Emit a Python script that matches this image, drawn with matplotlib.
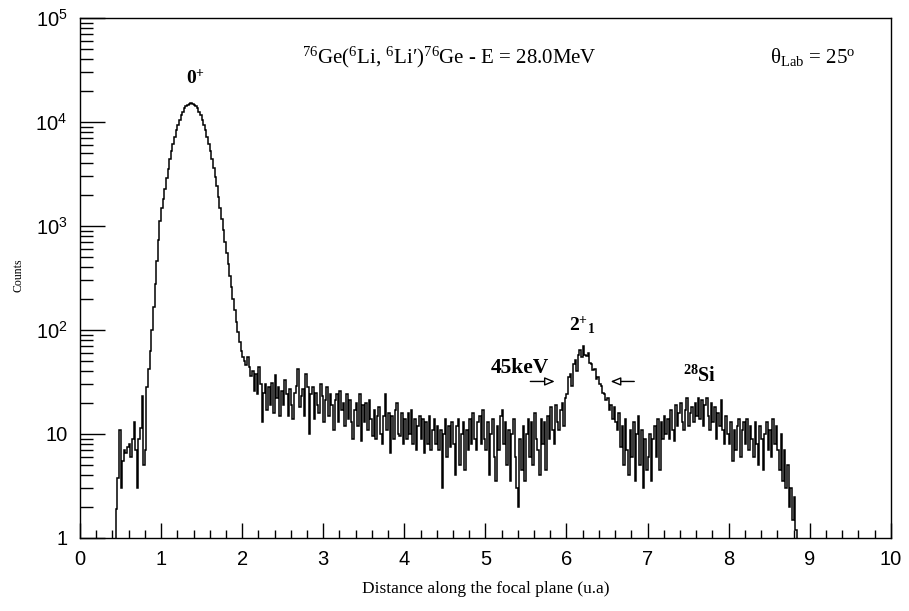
import numpy as np
import matplotlib
matplotlib.use("Agg")
import matplotlib.pyplot as plt
from matplotlib import font_manager
from matplotlib.ticker import FixedLocator, MultipleLocator, LogLocator, NullFormatter

# ---------------- data ----------------
bin_start = 0.44
bin_width = 0.02

counts_rise = [1.9, 3.8, 11, 3, 5.5, 7, 6.5, 7.5, 8, 6, 9, 13, 7, 3, 9, 11.5, 23, 5, 7]

counts_ground = [28, 42, 63, 100, 166, 275, 457, 741, 1122, 1480,
                 1800, 2290, 2880, 3550, 4365, 5250, 6170, 7240, 8320, 9440,
                 10470, 11610, 12590, 13490, 14130, 14690, 15030, 15140, 15030, 14690,
                 14130, 13490, 12590, 11610, 10470, 9440, 8320, 7240, 6170, 5250,
                 4365, 3630, 2950, 2400, 1905, 1480, 1175, 912, 708, 550,
                 427, 331, 257, 200, 155, 120, 95, 76, 63, 55,
                 50, 46, 55, 44, 36, 40]

counts_tail = [26, 38, 24, 44, 30, 13, 25, 30, 17, 28,
               19, 31, 16, 37, 22, 28, 15, 26, 19, 33,
               24, 15, 27, 19, 14, 25, 29, 42, 18, 23,
               27, 15, 38, 28, 10, 24, 28, 14, 25, 19,
               16, 30, 23, 13, 21, 28, 15, 24, 19, 11,
               21, 24, 13, 26, 17, 20, 12, 24, 14, 21,
               13, 9, 17, 20, 12, 24, 8.5, 19, 13, 20,
               11, 21, 14, 9.5, 17, 9, 15, 18, 10, 8,
               15, 24, 11, 16, 6.5, 15, 9, 17, 20, 10,
               9.5, 16, 8]

counts_flat = [14, 9, 16, 10, 17, 8, 14, 7, 12, 15,
               9, 14, 6.5, 13, 8, 15, 7, 11, 14, 8,
               12, 7, 11, 3, 10, 14, 6, 12, 7.5, 13,
               8, 4, 12, 14, 5, 10, 13, 4.5, 11, 7,
               14, 8, 16, 9, 7, 13, 15, 8, 17, 9,
               7, 13, 4, 10, 14, 6, 3.5, 12, 7, 15,
               17, 8, 13, 5, 11, 3.5, 10, 14, 6, 3,
               2, 9, 4.5, 12, 3.5, 10, 14, 6, 13, 5,
               16, 9, 7, 4, 14, 8, 13, 4.5, 15, 9,
               18, 11, 8, 19, 13, 11, 17, 20, 12, 22]

counts_2plus = [24, 35, 38, 29, 47, 52, 40, 57, 64, 55,
                70, 58, 56, 60, 48, 47, 41, 42, 34, 35,
                30, 29, 25, 24, 21, 22, 17, 19, 14, 18,
                13, 11, 16, 7.5, 12, 5, 14, 7, 4, 11,
                6, 13, 3.5, 10, 15, 5, 11, 3, 9, 4.5]

counts_si = [6, 10, 3.5, 9, 12, 6, 14, 4.5, 13, 9,
             15, 10, 14, 9, 17, 11, 8.5, 19, 12, 16,
             20, 13, 11, 17, 22, 12, 16, 18, 13, 20,
             15, 22, 14, 21, 12, 19, 22, 15, 11, 20,
             13, 18, 9, 16, 12, 21, 11, 8, 15, 10]

counts_end = [8, 13, 5.5, 11, 7, 12, 14, 6, 11, 13,
              8, 14, 7, 12, 9, 6, 13, 8, 5, 12,
              9, 4.5, 10, 13, 7, 11, 6, 14, 8, 12,
              7, 4.5, 10, 3.5, 7, 3, 5, 2, 3, 1.5,
              2.5, 1.2]

x_ticks = [0, 1, 2, 3, 4, 5, 6, 7, 8, 9, 10]
y_ticks = [1, 10, 100, 1000, 10000, 100000]
y_tick_labels = ["1", "10", r"$\mathsf{10^{2}}$", r"$\mathsf{10^{3}}$",
                 r"$\mathsf{10^{4}}$", r"$\mathsf{10^{5}}$"]

# ---------------- fonts ----------------
def has_font(name):
    try:
        font_manager.findfont(name, fallback_to_default=False)
        return True
    except Exception:
        return False

tick_font = "Liberation Sans Narrow" if has_font("Liberation Sans Narrow") else "Liberation Sans"

plt.rcParams["font.family"] = ["Liberation Serif", "DejaVu Serif"]
plt.rcParams["mathtext.fontset"] = "custom"
plt.rcParams["mathtext.rm"] = "Liberation Serif"
plt.rcParams["mathtext.it"] = "Liberation Serif:italic"
plt.rcParams["mathtext.bf"] = "Liberation Serif:bold"
plt.rcParams["mathtext.sf"] = tick_font

counts = np.array(counts_rise + counts_ground + counts_tail + counts_flat +
                  counts_2plus + counts_si + counts_end, dtype=float)
edges = bin_start + bin_width * np.arange(len(counts) + 1)

fig = plt.figure(figsize=(9.09, 6.11), dpi=100)
ax = fig.add_axes([0.088, 0.1195, 0.892, 0.851])

ax.stairs(counts, edges, baseline=0.5, color="black", linewidth=1.1)

ax.set_yscale("log")
ax.set_xlim(0, 10)
ax.set_ylim(1, 1e5)

ax.xaxis.set_major_locator(FixedLocator(x_ticks))
ax.xaxis.set_minor_locator(MultipleLocator(0.2))
ax.set_xticklabels([str(t) for t in x_ticks], fontfamily=tick_font, fontsize=14.5)
ax.yaxis.set_major_locator(FixedLocator(y_ticks))
ax.yaxis.set_minor_locator(LogLocator(base=10, subs=np.arange(2, 10)))
ax.yaxis.set_minor_formatter(NullFormatter())
ax.set_yticklabels(y_tick_labels, fontfamily=tick_font, fontsize=14.5)

ax.tick_params(axis="x", which="major", direction="in", length=10.5, width=1, pad=9, top=False)
ax.tick_params(axis="x", which="minor", direction="in", length=5.5, width=1, top=False)
ax.tick_params(axis="y", which="major", direction="in", length=18, width=1, pad=9, right=False)
ax.tick_params(axis="y", which="minor", direction="in", length=9, width=1, right=False)
for s in ax.spines.values():
    s.set_linewidth(1.0)

ax.set_xlabel("Distance along the focal plane (u.a)", fontsize=12.5, labelpad=8)
fig.text(0.020, 0.55, "Counts", rotation=90, fontsize=8.5, ha="center", va="center")

ax.text(0.456, 0.925, "$^{76}$Ge($^{6}$Li, $^{6}$Li\u2032)$^{76}$Ge - E = 28.0MeV",
        transform=ax.transAxes, ha="center", va="center", fontsize=15)
ax.text(0.904, 0.925, "\u03b8$_{\\rm Lab}$ = 25$^{\\rm o}$",
        transform=ax.transAxes, ha="center", va="center", fontsize=15)

ax.text(1.42, 26300, r"$\mathbf{0}^{\mathbf{+}}$", ha="center", va="center", fontsize=14)
ax.text(6.20, 111, r"$\mathbf{2}^{\mathbf{+}}{}_{\mathbf{1}}$", ha="center", va="center", fontsize=14)
ax.text(5.43, 43, "45keV", ha="center", va="center", fontsize=15.5, fontweight="bold")
ax.text(7.64, 36, r"$^{\mathbf{28}}\mathbf{Si}$", ha="center", va="center", fontsize=14.5)

arrow = dict(arrowstyle="-|>,head_length=0.6,head_width=0.25", fc="white", ec="black", lw=1)
ax.annotate("", xy=(5.89, 32), xytext=(5.52, 32), arrowprops=arrow)
ax.annotate("", xy=(6.51, 32), xytext=(6.87, 32), arrowprops=arrow)

fig.savefig("out.png", dpi=100)
